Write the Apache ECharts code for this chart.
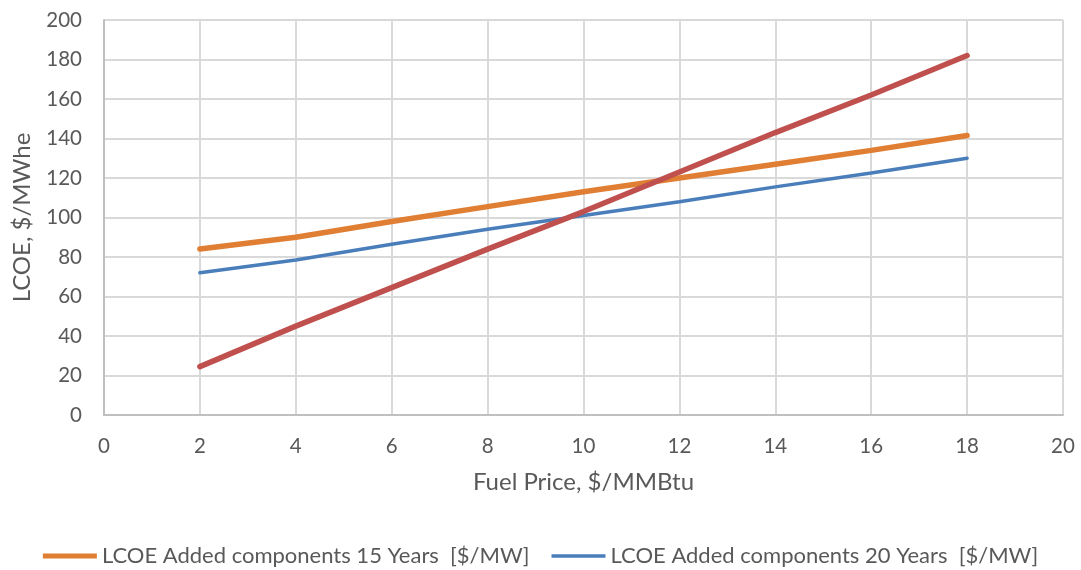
<!DOCTYPE html>
<html>
<head>
<meta charset="utf-8">
<script src="https://cdn.jsdelivr.net/npm/echarts@6/dist/echarts.min.js"></script>
<style>
  html, body { margin: 0; padding: 0; background: #fff; }
  #chart { width: 1081px; height: 570px; }
</style>
</head>
<body>
<div id="chart"></div>
<script>
// Fuel price points ($/MMBtu)
const fuelPrice = [2, 4, 6, 8, 10, 12, 14, 16, 18];

// LCOE values ($/MWhe)
const lcoe15 = [84, 90, 98, 105.5, 113, 120, 127, 134, 141.5];
const lcoe20 = [72, 78.5, 86.5, 94, 101, 108, 115.5, 122.5, 130];
const lcoeFuel = [24.5, 45, 64.5, 84, 103, 123, 143, 162, 182];

const name15 = 'LCOE Added components 15 Years  [$/MW]';
const name20 = 'LCOE Added components 20 Years  [$/MW]';
const nameFuel = 'LCOE Fuel';

const pairs = (ys) => fuelPrice.map((x, i) => [x, ys[i]]);

const FONT = 'Lato, "Open Sans", sans-serif';
const TXT = '#595959';
const ORANGE = '#E07F34';
const BLUE = '#4A7EBB';
const RED = '#C0504D';

const chart = echarts.init(document.getElementById('chart'), null, { renderer: 'canvas' });
chart.setOption({
  animation: false,
  textStyle: { fontFamily: FONT },
  grid: { left: 104, right: 18, top: 20, bottom: 155, containLabel: false },
  xAxis: {
    type: 'value', min: 0, max: 20, interval: 2,
    name: 'Fuel Price, $/MMBtu', nameLocation: 'middle', nameGap: 55,
    nameTextStyle: { color: TXT, fontSize: 24, fontFamily: FONT },
    axisLine: { show: true, lineStyle: { color: '#BFBFBF', width: 2 } },
    axisTick: { show: false },
    axisLabel: { color: TXT, fontSize: 20.5, margin: 21, fontFamily: FONT },
    splitLine: { show: true, lineStyle: { color: '#D9D9D9', width: 2 } }
  },
  yAxis: {
    type: 'value', min: 0, max: 200, interval: 20,
    name: 'LCOE, $/MWhe', nameLocation: 'middle', nameGap: 70, nameRotate: 90,
    nameTextStyle: { color: TXT, fontSize: 24, fontFamily: FONT },
    axisLine: { show: true, lineStyle: { color: '#BFBFBF', width: 2 } },
    axisTick: { show: false },
    axisLabel: { color: TXT, fontSize: 20.5, margin: 22, fontFamily: FONT },
    splitLine: { show: true, lineStyle: { color: '#D9D9D9', width: 2 } }
  },
  legend: {
    data: [
      { name: name15, icon: 'path://M0,0H56V5H0Z' },
      { name: name20, icon: 'path://M0,0H56V3.5H0Z' }
    ],
    top: 540, left: 'center',
    itemWidth: 54, itemHeight: 14, itemGap: 22,
    symbolKeepAspect: true,
    textStyle: { color: TXT, fontSize: 22, fontFamily: FONT }
  },
  series: [
    {
      name: name15, type: 'line', data: pairs(lcoe15),
      symbol: 'none',
      lineStyle: { color: ORANGE, width: 5.5, cap: 'round' },
      itemStyle: { color: ORANGE }, z: 3
    },
    {
      name: name20, type: 'line', data: pairs(lcoe20),
      symbol: 'none',
      lineStyle: { color: BLUE, width: 3.5, cap: 'round' },
      itemStyle: { color: BLUE }, z: 2
    },
    {
      name: nameFuel, type: 'line', data: pairs(lcoeFuel),
      symbol: 'none',
      lineStyle: { color: RED, width: 5.5, cap: 'round' },
      itemStyle: { color: RED }, z: 4
    }
  ]
});
</script>
</body>
</html>
